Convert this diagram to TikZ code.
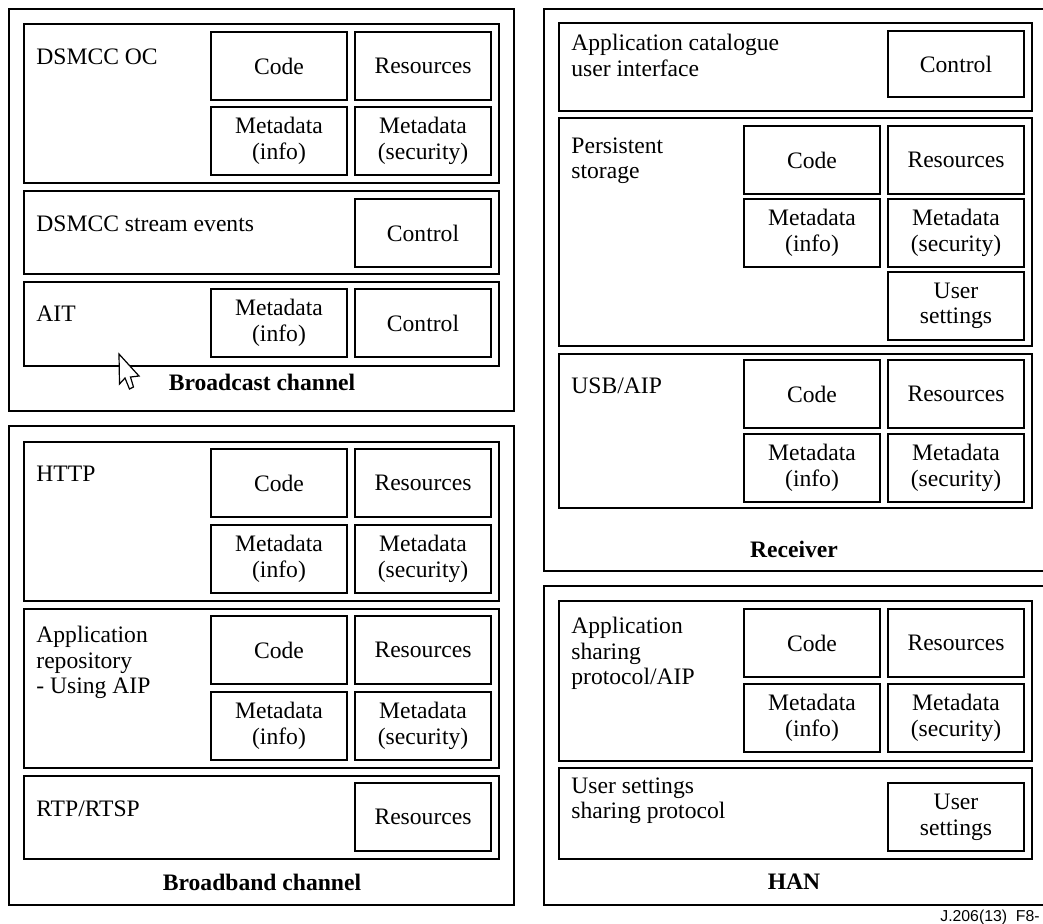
\documentclass[tikz,border=0pt]{standalone}
\usepackage{fontspec}
\setmainfont{Liberation Serif}
\newfontfamily\footfont{Liberation Sans}

\begin{document}
\begin{tikzpicture}[x=0.5pt,y=-0.5pt]%
  \tikzstyle{every node}=[font=\fontsize{11.8}{12.8}\selectfont]
  \tikzstyle{frame}=[draw,line width=0.8pt,anchor=north west,inner sep=0,outer sep=0]
  \tikzstyle{llayer}=[frame,minimum width=237.5pt]
  \tikzstyle{rlayer}=[frame,minimum width=236.5pt]
  \tikzstyle{cell}=[draw,line width=0.8pt,minimum width=68pt,minimum height=34pt,align=center,inner sep=0]
  \tikzstyle{lbl}=[anchor=north west,align=left,inner sep=0]
  \tikzstyle{ttl}=[anchor=base,font=\fontsize{11.8}{12.8}\selectfont\bfseries]
  \useasboundingbox (0,0) rectangle (1043,923);
  \clip (0,0) rectangle (1043,923);
  % broadcast channel
  \node(bc)[frame,minimum width=252.5pt,minimum height=201pt] at (9,9) {};
  \node(oc)[llayer,minimum height=79.5pt] at (24,24) {};
  \node(se)[llayer,minimum height=41.5pt] at (24,191) {};
  \node(ait)[llayer,minimum height=42pt] at (24,282) {};
  \node(oc-l)[lbl] at (36,48) {DSMCC OC};
  \node(se-l)[lbl] at (36,215) {DSMCC stream events};
  \node(ait-l)[lbl] at (36,306) {AIT};
  \node(oc-code)[cell] at (279,66) {Code};
  \node(oc-res)[cell] at (423,66) {Resources};
  \node(oc-info)[cell] at (279,141) {Metadata\\(info)};
  \node(oc-sec)[cell] at (423,141) {Metadata\\(security)};
  \node(se-ctl)[cell] at (423,233) {Control};
  \node(ait-info)[cell] at (279,323) {Metadata\\(info)};
  \node(ait-ctl)[cell] at (423,323) {Control};
  \node(bc-t)[ttl] at (262,390) {Broadcast channel};
  % broadband channel
  \node(bb)[frame,minimum width=252.5pt,minimum height=239.5pt] at (9,426) {};
  \node(http)[llayer,minimum height=79.5pt] at (24,442) {};
  \node(repo)[llayer,minimum height=79.5pt] at (24,609) {};
  \node(rtp)[llayer,minimum height=41.5pt] at (24,776) {};
  \node(http-l)[lbl] at (36,466) {HTTP};
  \node(repo-l)[lbl] at (36,626) {Application\\repository\\- Using AIP};
  \node(rtp-l)[lbl] at (36,800) {RTP/RTSP};
  \node(http-code)[cell] at (279,483) {Code};
  \node(http-res)[cell] at (423,483) {Resources};
  \node(http-info)[cell] at (279,559) {Metadata\\(info)};
  \node(http-sec)[cell] at (423,559) {Metadata\\(security)};
  \node(repo-code)[cell] at (279,650) {Code};
  \node(repo-res)[cell] at (423,650) {Resources};
  \node(repo-info)[cell] at (279,726) {Metadata\\(info)};
  \node(repo-sec)[cell] at (423,726) {Metadata\\(security)};
  \node(rtp-res)[cell] at (423,817) {Resources};
  \node(bb-t)[ttl] at (262,890) {Broadband channel};
  % receiver
  \node(rx)[frame,minimum width=251.5pt,minimum height=281pt] at (544,9) {};
  \node(cat)[rlayer,minimum height=44pt] at (559,23) {};
  \node(ps)[rlayer,minimum height=114pt] at (559,118) {};
  \node(usb)[rlayer,minimum height=77pt] at (559,354) {};
  \node(cat-l)[lbl] at (571,34) {Application catalogue\\user interface};
  \node(ps-l)[lbl] at (571,137) {Persistent\\storage};
  \node(usb-l)[lbl] at (571,377) {USB/AIP};
  \node(cat-ctl)[cell,minimum height=33pt] at (956,64) {Control};
  \node(ps-code)[cell] at (812,160) {Code};
  \node(ps-res)[cell] at (956,160) {Resources};
  \node(ps-info)[cell] at (812,233) {Metadata\\(info)};
  \node(ps-sec)[cell] at (956,233) {Metadata\\(security)};
  \node(ps-user)[cell] at (956,306) {User\\settings};
  \node(usb-code)[cell] at (812,394) {Code};
  \node(usb-res)[cell] at (956,394) {Resources};
  \node(usb-info)[cell] at (812,468) {Metadata\\(info)};
  \node(usb-sec)[cell] at (956,468) {Metadata\\(security)};
  \node(rx-t)[ttl] at (794,557) {Receiver};
  % home area network
  \node(han)[frame,minimum width=251.5pt,minimum height=159.5pt] at (544,586) {};
  \node(asp)[rlayer,minimum height=80pt] at (559,601) {};
  \node(usp)[rlayer,minimum height=45.5pt] at (559,768) {};
  \node(asp-l)[lbl] at (571,617) {Application\\sharing\\protocol/AIP};
  \node(usp-l)[lbl] at (571,777) {User settings\\sharing protocol};
  \node(asp-code)[cell] at (812,643) {Code};
  \node(asp-res)[cell] at (956,643) {Resources};
  \node(asp-info)[cell] at (812,718) {Metadata\\(info)};
  \node(asp-sec)[cell] at (956,718) {Metadata\\(security)};
  \node(usp-user)[cell] at (956,817) {User\\settings};
  \node(han-t)[ttl] at (794,889) {HAN};
  % pointer and figure number
  \draw[fill=white,line width=0.6pt,line join=miter] (119,354) -- (119.5,384) -- (125,378) -- (129.5,389)
    -- (133.5,387) -- (130.5,377) -- (139,376) -- cycle;
  \node(fig)[anchor=base east,inner sep=0,font=\footfont\fontsize{7.9}{9}\selectfont] at (1040,921) {J.206(13)\ \ F8-};
\end{tikzpicture}
\end{document}
